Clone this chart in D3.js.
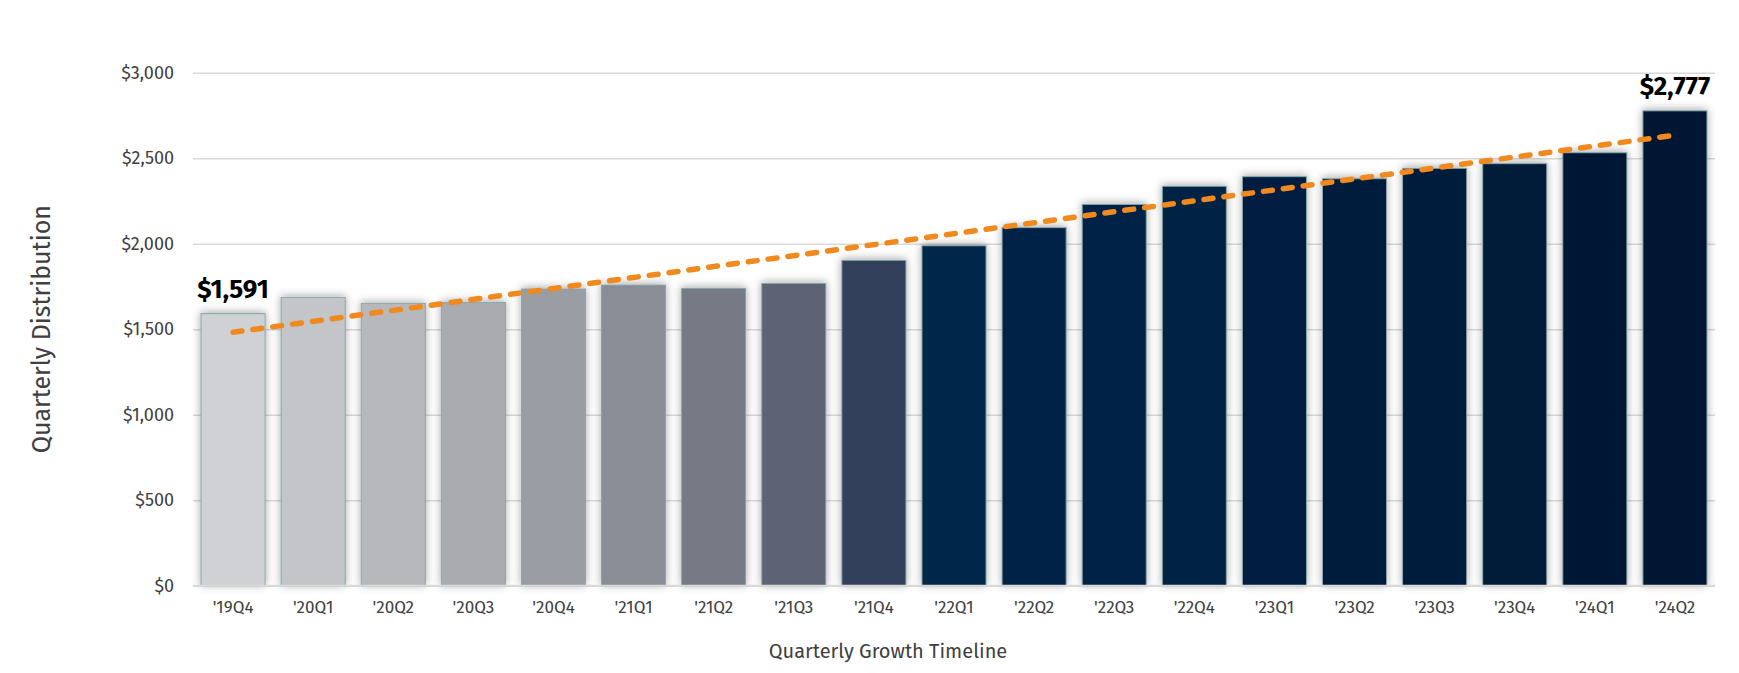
<!DOCTYPE html>
<html>
<head>
<meta charset="utf-8">
<script src="https://cdn.jsdelivr.net/npm/d3@7"></script>
<style>
  html, body { margin: 0; padding: 0; background: #ffffff; }
  svg { display: block; }
  text { font-family: "Fira Sans", "Fira Sans Condensed", "Liberation Sans Narrow", "Roboto", "Noto Sans", sans-serif; }
</style>
</head>
<body>
<div id="chart"></div>
<script>
// ---------- data ----------
const categories = ["'19Q4","'20Q1","'20Q2","'20Q3","'20Q4","'21Q1","'21Q2","'21Q3","'21Q4",
                    "'22Q1","'22Q2","'22Q3","'22Q4","'23Q1","'23Q2","'23Q3","'23Q4","'24Q1","'24Q2"];
const distributions = [1591, 1686, 1651, 1657, 1735, 1758, 1739, 1768, 1903,
                       1988, 2094, 2230, 2336, 2392, 2380, 2441, 2468, 2532, 2777];
const barColors = ["#CFD1D5","#C3C5C9","#B6B8BC","#A9ABB0","#9A9DA4","#898D96","#767A85","#5D6274","#323F5B",
                   "#05264A","#042447","#032346","#032244","#021F40","#021E3E","#021D3C","#011B38","#011934","#011933"];
const trendCategories = ["'19Q4", "'24Q2"];
const trendValues = [1482, 2635];
const labelledCategories = ["'19Q4", "'24Q2"];
const yTicks = [0, 500, 1000, 1500, 2000, 2500, 3000];
const yTitle = "Quarterly Distribution";
const xTitle = "Quarterly Growth Timeline";

// ---------- layout ----------
const W = 1739, H = 673;
const plotLeft = 193, plotRight = 1715, plotTop = 72.7, plotBottom = 585.7;

const svg = d3.select("#chart").append("svg").attr("width", W).attr("height", H);
svg.append("rect").attr("width", W).attr("height", H).attr("fill", "#ffffff");

const defs = svg.append("defs");
const f = defs.append("filter").attr("id", "shadow")
  .attr("x", "-30%").attr("y", "-10%").attr("width", "160%").attr("height", "120%");
f.append("feDropShadow").attr("dx", 0).attr("dy", -1).attr("stdDeviation", 4)
  .attr("flood-color", "#000").attr("flood-opacity", 0.35);

const x = d3.scaleBand().domain(categories).range([plotLeft, plotRight])
  .paddingInner(0.2).paddingOuter(0.1);
const y = d3.scaleLinear().domain([0, 3000]).range([plotBottom, plotTop]);

// gridlines + y labels
const yAxis = svg.append("g").attr("transform", `translate(${plotLeft},0)`)
  .call(d3.axisLeft(y).tickValues(yTicks).tickSize(-(plotRight - plotLeft))
        .tickPadding(19).tickFormat(d => "$" + d3.format(",")(d)));
yAxis.select(".domain").remove();
yAxis.selectAll(".tick line").attr("stroke", "#d9d9d9").attr("stroke-width", 1.5);
yAxis.selectAll(".tick text").attr("fill", "#404040").style("font-size", "18px");

// bars
svg.append("g").selectAll("rect").data(categories).join("rect")
  .attr("x", d => x(d))
  .attr("y", (d, i) => y(distributions[i]))
  .attr("width", x.bandwidth())
  .attr("height", (d, i) => y(0) - y(distributions[i]))
  .attr("fill", (d, i) => barColors[i])
  .attr("stroke", "#89A6A9").attr("stroke-width", 1)
  .attr("filter", "url(#shadow)");

// baseline
svg.append("line").attr("x1", plotLeft).attr("x2", plotRight)
  .attr("y1", y(0)).attr("y2", y(0)).attr("stroke", "#d9d9d9").attr("stroke-width", 2);

// x axis labels
const xAxis = svg.append("g").attr("transform", `translate(0,${plotBottom})`)
  .call(d3.axisBottom(x).tickSize(0).tickPadding(15));
xAxis.select(".domain").remove();
xAxis.selectAll(".tick text").attr("fill", "#404040").style("font-size", "17px");

// trend line
const line = d3.line().x(d => x(d[0]) + x.bandwidth() / 2).y(d => y(d[1]));
svg.append("path")
  .datum(trendCategories.map((c, i) => [c, trendValues[i]]))
  .attr("d", line)
  .attr("fill", "none")
  .attr("stroke", "#F0891E")
  .attr("stroke-width", 5.5)
  .attr("stroke-linecap", "round")
  .attr("stroke-dasharray", "9,11");

// data labels
svg.append("g").selectAll("text").data(labelledCategories).join("text")
  .attr("x", d => x(d) + x.bandwidth() / 2)
  .attr("y", d => y(distributions[categories.indexOf(d)]) - 16)
  .attr("text-anchor", "middle")
  .attr("fill", "#000")
  .style("font-size", "26px").style("font-weight", "bold")
  .text(d => "$" + d3.format(",")(distributions[categories.indexOf(d)]));

// axis titles
svg.append("text")
  .attr("transform", `translate(42,${(plotTop + plotBottom) / 2}) rotate(-90)`)
  .attr("text-anchor", "middle").attr("dominant-baseline", "central")
  .attr("fill", "#404040").style("font-size", "25px")
  .text(yTitle);

svg.append("text")
  .attr("x", 888).attr("y", 651)
  .attr("text-anchor", "middle").attr("dominant-baseline", "central")
  .attr("fill", "#404040").style("font-size", "20px")
  .text(xTitle);
</script>
</body>
</html>
